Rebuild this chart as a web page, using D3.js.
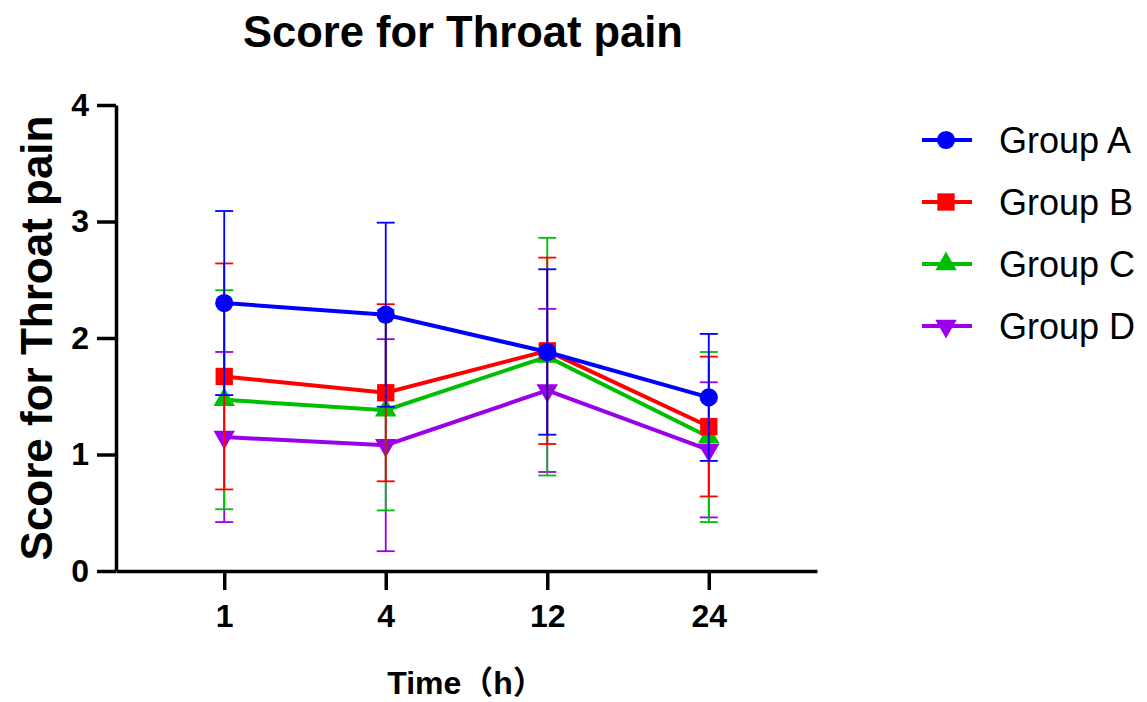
<!DOCTYPE html>
<html>
<head>
<meta charset="utf-8">
<script src="https://cdn.jsdelivr.net/npm/d3@7"></script>
<style>
  body { margin: 0; background: #fff; }
  text { font-family: "Liberation Sans", Arial, "Noto Sans CJK SC", sans-serif; fill: #000; }
</style>
</head>
<body>
<svg id="chart" width="1147" height="702"></svg>
<script>
// time points (h)
const times = ["1", "4", "12", "24"];
const groups = ["Group A", "Group B", "Group C", "Group D"];
// mean score per time point
const meanA = [2.30, 2.20, 1.88, 1.49];
const meanB = [1.67, 1.53, 1.89, 1.24];
const meanC = [1.47, 1.38, 1.84, 1.15];
const meanD = [1.15, 1.08, 1.55, 1.04];
// SD per time point
const sdA = [0.79, 0.79, 0.71, 0.545];
const sdB = [0.97, 0.76, 0.80, 0.60];
const sdC = [0.94, 0.86, 1.02, 0.73];
const sdD = [0.73, 0.91, 0.70, 0.58];
const yTicks = [0, 1, 2, 3, 4];

const colors = ["#0000ff", "#ff0000", "#00bf00", "#9a00ea"];
const shapes = ["circle", "square", "triUp", "triDown"];

const series = groups.map((g, i) => ({
  name: g,
  color: colors[i],
  shape: shapes[i],
  values: times.map((t, j) => ({
    t,
    mean: [meanA, meanB, meanC, meanD][i][j],
    sd: [sdA, sdB, sdC, sdD][i][j]
  }))
}));

const svg = d3.select("#chart");

const plotLeft = 116, plotRight = 817, plotTop = 105, plotBottom = 571;

const x = d3.scalePoint().domain(times).range([plotLeft, plotRight]).padding(0.67);
const y = d3.scaleLinear().domain([0, 4]).range([plotBottom, plotTop]);

function markerPath(shape) {
  if (shape === "circle") return d3.symbol().type(d3.symbolCircle).size(260)();
  if (shape === "square") return d3.symbol().type(d3.symbolSquare).size(300)();
  return d3.symbol().type(d3.symbolTriangle).size(200)();
}

function drawMarker(g, shape, color, cx, cy) {
  g.append("path")
    .attr("d", markerPath(shape))
    .attr("fill", color)
    .attr("transform", "translate(" + cx + "," + cy + ")" + (shape === "triDown" ? " rotate(180)" : ""));
}

// title
svg.append("text")
  .attr("x", 463)
  .attr("y", 47)
  .attr("text-anchor", "middle")
  .attr("font-weight", "bold")
  .attr("font-size", 43.5)
  .text("Score for Throat pain");

// axes
const yAxis = svg.append("g")
  .attr("transform", "translate(" + plotLeft + ",0)")
  .call(d3.axisLeft(y).tickValues(yTicks).tickFormat(d3.format("d"))
    .tickSize(19).tickSizeOuter(0).tickPadding(8));

const xAxis = svg.append("g")
  .attr("transform", "translate(0," + plotBottom + ")")
  .call(d3.axisBottom(x).tickSize(19).tickSizeOuter(0).tickPadding(14));

[xAxis, yAxis].forEach(a => {
  a.selectAll("path, line").attr("stroke", "#000").attr("stroke-width", 3.5);
  a.selectAll("text")
    .attr("font-size", 32)
    .attr("font-weight", "bold")
    .attr("font-family", "Liberation Sans, Arial, sans-serif")
    .attr("fill", "#000");
});

// axis titles
svg.append("text")
  .attr("transform", "translate(52," + ((plotTop + plotBottom) / 2) + ") rotate(-90)")
  .attr("text-anchor", "middle")
  .attr("font-weight", "bold")
  .attr("font-size", 44)
  .text("Score for Throat pain");

svg.append("text")
  .attr("x", 466)
  .attr("y", 694)
  .attr("text-anchor", "middle")
  .attr("font-weight", "bold")
  .attr("font-size", 32)
  .text("Time（h）");

// data, drawn D first so A ends up on top
const plot = svg.append("g");
const line = d3.line().x(d => x(d.t)).y(d => y(d.mean));

series.slice().reverse().forEach(s => {
  const g = plot.append("g");

  s.values.forEach(d => {
    const cx = x(d.t);
    const y1 = y(d.mean + d.sd), y0 = y(Math.max(0, d.mean - d.sd));
    g.append("line")
      .attr("x1", cx).attr("x2", cx)
      .attr("y1", y1).attr("y2", y0)
      .attr("stroke", s.color).attr("stroke-width", 1.8);
    [y1, y0].forEach(cy => {
      g.append("line")
        .attr("x1", cx - 9).attr("x2", cx + 9)
        .attr("y1", cy).attr("y2", cy)
        .attr("stroke", s.color).attr("stroke-width", 1.8);
    });
  });

  g.append("path")
    .datum(s.values)
    .attr("d", line)
    .attr("fill", "none")
    .attr("stroke", s.color)
    .attr("stroke-width", 4);

  s.values.forEach(d => drawMarker(g, s.shape, s.color, x(d.t), y(d.mean)));
});

// legend
const legend = svg.append("g");
series.forEach((s, i) => {
  const ly = 140 + i * 62;
  legend.append("line")
    .attr("x1", 922).attr("x2", 972)
    .attr("y1", ly).attr("y2", ly)
    .attr("stroke", s.color).attr("stroke-width", 4);
  drawMarker(legend, s.shape, s.color, 946, ly);
  legend.append("text")
    .attr("x", 999)
    .attr("y", ly + 13)
    .attr("font-size", 36)
    .text(s.name);
});
</script>
</body>
</html>
